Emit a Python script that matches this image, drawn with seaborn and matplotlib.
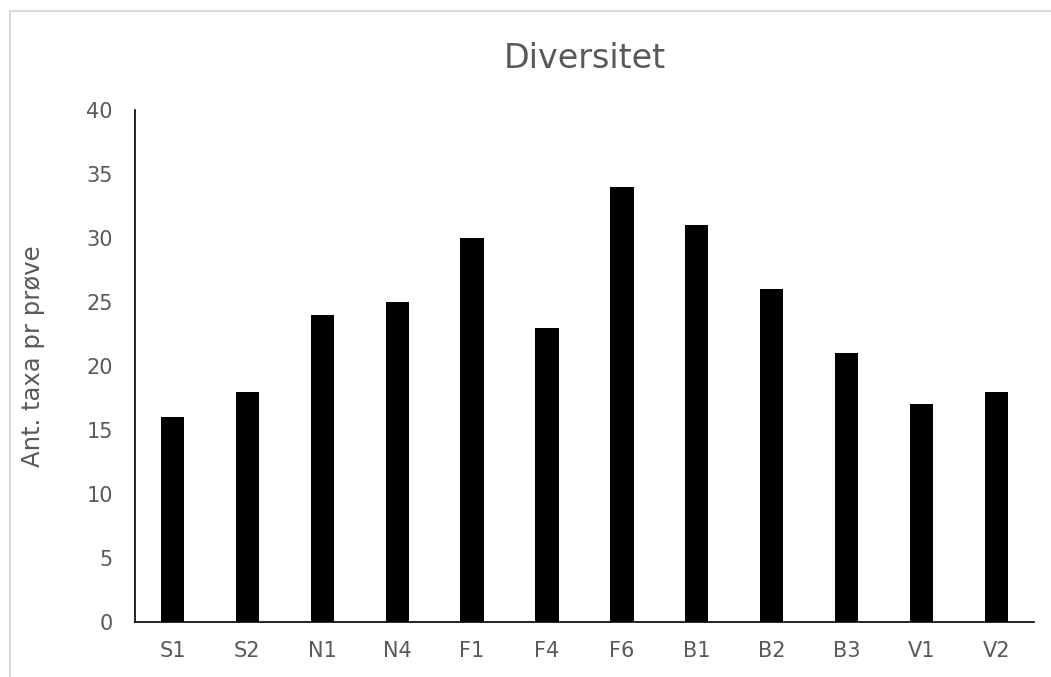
import matplotlib
matplotlib.use("Agg")
import matplotlib.pyplot as plt
import seaborn as sns
import pandas as pd
from matplotlib.lines import Line2D

# values
stations = ["S1", "S2", "N1", "N4", "F1", "F4", "F6", "B1", "B2", "B3", "V1", "V2"]
taxa = [16, 18, 24, 25, 30, 23, 34, 31, 26, 21, 17, 18]

df = pd.DataFrame({"station": stations, "taxa": taxa})

sns.set_style("white")
plt.rcParams["font.family"] = ["DejaVu Sans"]
text_col = "#595959"

fig = plt.figure(figsize=(10.51, 6.77), dpi=100)
ax = fig.add_axes([0.1284, 0.0812, 0.8554, 0.7563])

sns.barplot(data=df, x="station", y="taxa", color="black", width=0.31,
            saturation=1, edgecolor="black", linewidth=0, ax=ax)

ax.set_ylim(0, 40)
ax.set_yticks(range(0, 41, 5))
ax.set_xlim(-0.5, len(stations) - 0.5)
ax.tick_params(axis="y", length=0, labelsize=15, colors=text_col, pad=16)
ax.tick_params(axis="x", length=0, labelsize=15, colors=text_col, pad=14)
ax.set_xlabel("")
ax.set_ylabel("Ant. taxa pr prøve", fontsize=17.5, color=text_col, labelpad=26)
ax.yaxis.set_label_coords(-0.1, 0.52)
ax.set_title("Diversitet", fontsize=24, color=text_col, pad=30)

for side in ["top", "right"]:
    ax.spines[side].set_visible(False)
ax.spines["left"].set_color("black")
ax.spines["bottom"].set_color("black")
ax.spines["left"].set_linewidth(1.2)
ax.spines["bottom"].set_linewidth(1.2)

# light chart-area border (left and top edges visible)
fig.add_artist(Line2D([9.5 / 1051, 9.5 / 1051], [0, 1 - 10.5 / 677],
                      transform=fig.transFigure, color="#d9d9d9", lw=1.5))
fig.add_artist(Line2D([9.5 / 1051, 1], [1 - 10.5 / 677, 1 - 10.5 / 677],
                      transform=fig.transFigure, color="#d9d9d9", lw=1.5))

fig.savefig("out.png", dpi=100)
